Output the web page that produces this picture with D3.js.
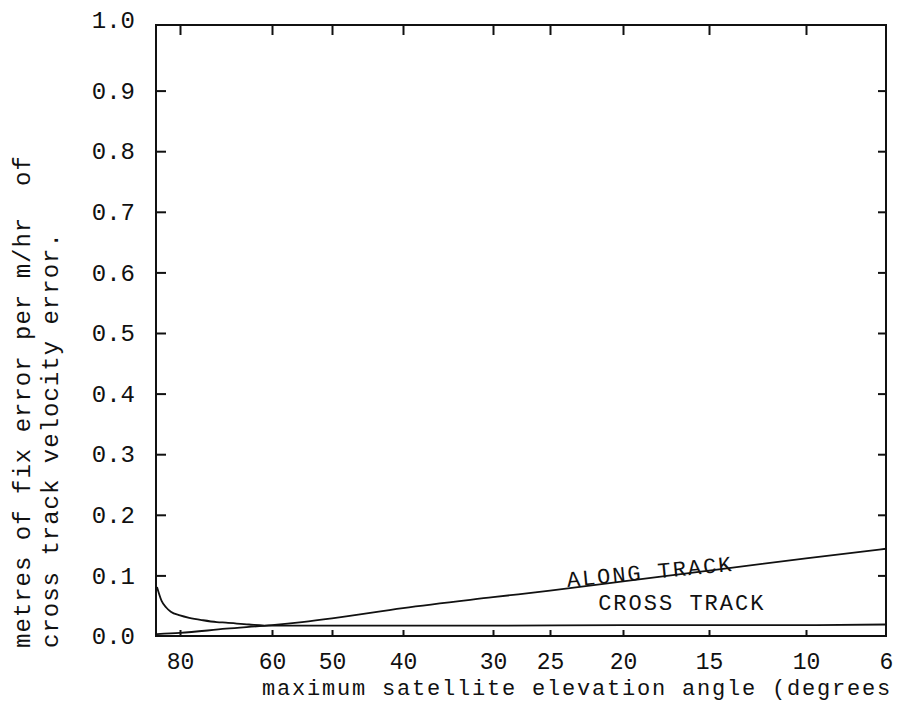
<!DOCTYPE html>
<html><head><meta charset="utf-8">
<script src="https://cdn.jsdelivr.net/npm/d3@7"></script>
<style>
body{margin:0;background:#fff;}
svg text{font-family:"Liberation Mono","DejaVu Sans Mono",monospace;fill:#111;white-space:pre;}
</style></head><body>
<svg id="chart" width="900" height="702"></svg>
<script>
// ---- data ----
const elevTicks = [80, 60, 50, 40, 30, 25, 20, 15, 10, 6];
const valueTicks = [0.0, 0.1, 0.2, 0.3, 0.4, 0.5, 0.6, 0.7, 0.8, 0.9, 1.0];
const crossAngles = [85, 84, 83, 82, 80, 78, 75, 72, 70, 65, 60, 50, 40, 30, 20, 10, 6];
const crossValues = [0.081, 0.058, 0.047, 0.040, 0.034, 0.030, 0.026, 0.023, 0.022, 0.019, 0.017, 0.017, 0.017, 0.017, 0.018, 0.018, 0.019];
const alongAngles = [85, 80, 70, 60, 55, 50, 40, 30, 25, 20, 15, 10, 6];
const alongValues = [0.003, 0.005, 0.012, 0.018, 0.023, 0.029, 0.046, 0.064, 0.075, 0.090, 0.108, 0.128, 0.144];
const seriesLabels = ["ALONG TRACK", "CROSS TRACK"];
const labelAngles = [23.8, 21.7];
const labelValues = [0.081, 0.043];
const yTitleLines = ["metres of fix error per m/hr  of", "cross track velocity error."];
const xTitle = "maximum satellite elevation angle (degrees";

// ---- layout ----
const L = 156, R = 886, T = 25, B = 636;
// non-linear elevation axis: pixel position of each labelled elevation
const elevPx = [180, 272, 332, 403, 493, 550, 623, 709, 806, 886];

const svg = d3.select("#chart");
const x = d3.scaleLinear().domain(elevTicks).range(elevPx);
const y = d3.scaleLinear().domain([0, 1]).range([B, 30]);

// frame
svg.append("rect").attr("x", L).attr("y", T).attr("width", R - L).attr("height", B - T)
  .attr("fill", "none").attr("stroke", "#111").attr("stroke-width", 2);

const inner = valueTicks.filter(v => v > 0 && v < 1);
const innerX = elevTicks.filter(v => v !== 6);

// inward ticks
const gl = svg.append("g").attr("transform", `translate(${L},0)`)
  .call(d3.axisRight(y).tickValues(inner).tickSize(10).tickFormat(""));
const gr = svg.append("g").attr("transform", `translate(${R},0)`)
  .call(d3.axisLeft(y).tickValues(inner).tickSize(8).tickFormat(""));
const gt = svg.append("g").attr("transform", `translate(0,${T})`)
  .call(d3.axisBottom(x).tickValues(innerX).tickSize(10).tickFormat(""));
const gb = svg.append("g").attr("transform", `translate(0,${B})`)
  .call(d3.axisTop(x).tickValues(innerX).tickSize(6).tickFormat(""));
[gl, gr, gt, gb].forEach(g => {
  g.select(".domain").remove();
  g.selectAll("line").attr("stroke", "#111").attr("stroke-width", 2);
});

// y labels
const yl = svg.append("g").attr("transform", `translate(${L},0)`)
  .call(d3.axisLeft(y).tickValues(valueTicks).tickSize(0).tickPadding(21).tickFormat(d3.format(".1f")));
yl.select(".domain").remove();
yl.selectAll("text").attr("font-size", 24)
  .style("font-family", "Liberation Mono, monospace").attr("fill", "#111")
  .attr("dy", d => d === 1 ? "-0.1em" : "0.32em");

// x labels
const xl = svg.append("g").attr("transform", `translate(0,${B})`)
  .call(d3.axisBottom(x).tickValues(elevTicks).tickSize(0).tickPadding(17).tickFormat(d3.format("d")));
xl.select(".domain").remove();
xl.selectAll("text").attr("font-size", 23)
  .style("font-family", "Liberation Mono, monospace").attr("fill", "#111");

// lines
const line = d3.line().x(d => x(d[0])).y(d => y(d[1])).curve(d3.curveMonotoneX);
svg.append("path").datum(crossAngles.map((a, i) => [a, crossValues[i]]))
  .attr("d", line).attr("fill", "none").attr("stroke", "#111").attr("stroke-width", 1.8);
svg.append("path").datum(alongAngles.map((a, i) => [a, alongValues[i]]))
  .attr("d", line).attr("fill", "none").attr("stroke", "#111").attr("stroke-width", 1.8);

// series labels
seriesLabels.forEach((s, i) => {
  const px = x(labelAngles[i]), py = y(labelValues[i]);
  svg.append("text").attr("x", px).attr("y", py)
    .attr("transform", i === 0 ? `rotate(-5.5,${px},${py})` : null)
    .attr("font-size", 22).attr("letter-spacing", 2).text(s);
});

// axis titles
svg.append("text").attr("x", 262).attr("y", 695).attr("font-size", 22)
  .attr("letter-spacing", 1.8).text(xTitle);
yTitleLines.forEach((t, i) => {
  const tx = 30 + i * 28, ty = 648;
  svg.append("text").attr("x", tx).attr("y", ty)
    .attr("transform", `rotate(-90,${tx},${ty})`)
    .attr("font-size", 24).attr("letter-spacing", 1.0).text(t);
});
</script>
</body></html>
